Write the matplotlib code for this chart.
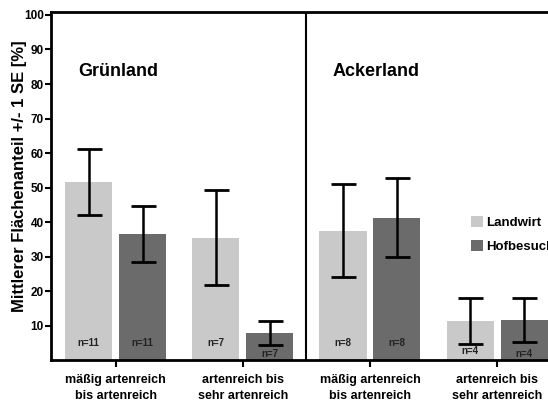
import matplotlib
matplotlib.use("Agg")
import matplotlib.pyplot as plt
import numpy as np

plt.rcParams['font.family'] = ['Liberation Sans', 'DejaVu Sans']

# data
groups = ["mäßig artenreich\nbis artenreich", "artenreich bis\nsehr artenreich",
          "mäßig artenreich\nbis artenreich", "artenreich bis\nsehr artenreich"]
landwirt = [51.5, 35.5, 37.5, 11.3]
landwirt_se = [9.6, 13.7, 13.5, 6.6]
hofbesuch = [36.5, 7.8, 41.3, 11.6]
hofbesuch_se = [8.1, 3.4, 11.4, 6.4]
n_landwirt = [11, 7, 8, 4]
n_hofbesuch = [11, 7, 8, 4]
panels = ["Grünland", "Ackerland"]

c_light = "#c9c9c9"
c_dark = "#6b6b6b"

fig = plt.figure(figsize=(5.48, 4.05), dpi=100)
ax = fig.add_axes([0.0925, 0.111, 0.9075, 0.8605])

x = np.arange(len(groups))
off = 0.212
w = 0.37

ax.bar(x - off, landwirt, w, color=c_light, label="Landwirt", zorder=1)
ax.bar(x + off, hofbesuch, w, color=c_dark, label="Hofbesuch", zorder=1)
ax.errorbar(x - off, landwirt, yerr=landwirt_se, fmt="none", ecolor="black",
            elinewidth=1.8, capsize=9, capthick=2, zorder=3)
ax.errorbar(x + off, hofbesuch, yerr=hofbesuch_se, fmt="none", ecolor="black",
            elinewidth=1.8, capsize=9, capthick=2, zorder=3)

# n= labels
for i in range(len(groups)):
    yl = 5 if landwirt[i] > 12 else 2.6
    yh = 5 if hofbesuch[i] > 12 else 1.8
    ax.text(x[i] - off, yl, "n=%d" % n_landwirt[i], ha="center", va="center",
            fontsize=7, fontweight="bold", color="#222222")
    ax.text(x[i] + off, yh, "n=%d" % n_hofbesuch[i], ha="center", va="center",
            fontsize=7, fontweight="bold", color="#222222")

# divider between panels
ax.axvline(1.5, color="black", lw=1.5)

ax.text(-0.29, 83.5, panels[0], fontsize=13, fontweight="bold", va="center")
ax.text(1.705, 83.5, panels[1], fontsize=13, fontweight="bold", va="center")

ax.set_xlim(-0.51, 3.40)
ax.set_ylim(0, 101)
ax.set_yticks(range(10, 101, 10))
ax.set_xticks(x)
ax.set_xticklabels(groups, fontsize=9, fontweight="bold", linespacing=1.45)
ax.tick_params(axis="x", length=5, width=1.5, pad=5)
ax.tick_params(axis="y", length=4, width=1.5, pad=1, labelsize=8.5)
for lab in ax.get_yticklabels():
    lab.set_fontweight("bold")

for s in ["left", "bottom", "top"]:
    ax.spines[s].set_linewidth(2)
ax.spines["right"].set_visible(False)

ax.set_ylabel("Mittlerer Flächenanteil +/- 1 SE [%]", fontsize=12, fontweight="bold")
ax.yaxis.set_label_coords(-0.047, 0.528)

ax.legend(loc="upper left", bbox_to_anchor=(0.8595, 0.467), bbox_transform=fig.transFigure,
          frameon=False, borderpad=0, borderaxespad=0, handlelength=0.9,
          handleheight=0.9, handletextpad=0.25, labelspacing=0.85,
          prop={"size": 9.5, "weight": "bold"})

fig.savefig("out.png", dpi=100)
